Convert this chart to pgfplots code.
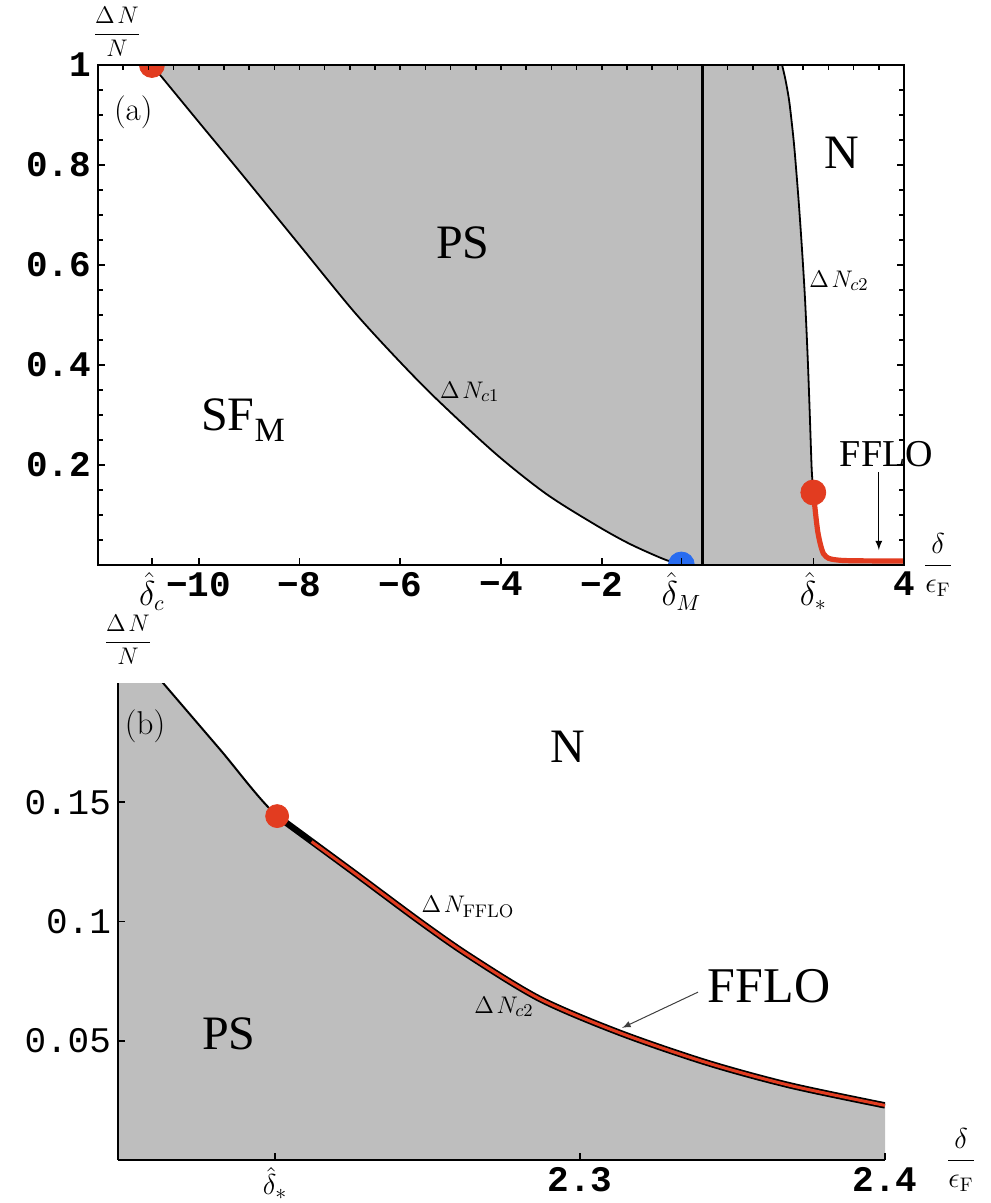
\documentclass[border=0pt]{standalone}
\usepackage{pgfplots}
\pgfplotsset{compat=1.18}
\usepackage{fontspec}
\newfontfamily\tms{Liberation Serif}
\newfontfamily\mono{Liberation Mono}
\definecolor{grayfill}{RGB}{190,190,190}
\definecolor{dotred}{RGB}{226,60,32}
\definecolor{dotblue}{RGB}{40,108,240}

\begin{document}
\begin{tikzpicture}
% ---------------- panel (a) ----------------
\begin{axis}[
  at={(49pt,-282.5pt)}, anchor=south west,
  scale only axis, width=403pt, height=250pt,
  xmin=-12, xmax=4, ymin=0, ymax=1,
  axis on top, clip marker paths=true,
  axis line style={line width=1.1pt},
  tick align=inside,
  major tick length=3.5pt, minor tick length=2.5pt,
  tick style={black, line width=0.8pt},
  xtick pos=left,
  xtick={-10.93,-10,-8,-6,-4,-2,-0.42,2.2,4},
  xticklabels={{\fontsize{16}{16}\selectfont$\hat\delta_c$},−10,−8,−6,−4,−2,{\fontsize{16}{16}\selectfont$\hat\delta_M$},{\fontsize{16}{16}\selectfont$\hat\delta_*$},4},
  ytick={0,0.2,0.4,0.6,0.8,1},
  yticklabels={,0.2,0.4,0.6,0.8,1},
  minor y tick num=3,
  tick label style={font=\fontsize{18}{18}\selectfont\mono\bfseries},
  after end axis/.code={
    \node[font=\fontsize{16.5}{16.5}\selectfont] at (axis cs:-11.30,0.906) {(a)};
    \node[font=\fontsize{24}{24}\selectfont\tms] at (axis cs:-4.76,0.644) {PS};
    \node[font=\fontsize{24}{24}\selectfont\tms] at (axis cs:2.77,0.824) {N};
    \node[font=\fontsize{24}{24}\selectfont\tms] at (axis cs:-9.12,0.29) {SF\raisebox{-0.22em}{\fontsize{17}{17}\selectfont M}};
    \node[font=\fontsize{13}{13}\selectfont] at (axis cs:-4.62,0.346) {$\Delta\mkern2mu N_{c1}$};
    \node[font=\fontsize{13}{13}\selectfont] at (axis cs:2.71,0.568) {$\Delta\mkern2mu N_{c2}$};
    \node[font=\fontsize{19}{19}\selectfont\tms] at (axis cs:3.65,0.222) {FFLO};
    \draw[-latex, line width=0.6pt] (axis cs:3.5,0.186) -- (axis cs:3.5,0.03);
    \node[font=\fontsize{12}{12}\selectfont, xshift=9.5pt, yshift=16.5pt] at (rel axis cs:0,1) {$\displaystyle\frac{\Delta\mkern2mu N}{N}$};
    \node[font=\fontsize{14}{14}\selectfont, anchor=west, xshift=6pt] at (rel axis cs:1,0) {$\displaystyle\frac{\delta}{\epsilon_{\mathrm{F}}}$};
  },
]
% phase-separated region
\addplot[fill=grayfill, draw=none] coordinates {
  (-10.93,1.0) (-10,0.886) (-9.18,0.786) (-8,0.640) (-6.93,0.508) (-6.06,0.412)
  (-5.27,0.331) (-4.1,0.222) (-3.1,0.142) (-2.12,0.080) (-1.46,0.043) (-0.8,0.013)
  (-0.42,0)
  (4,0) (4,0.008) (3.2,0.0083) (2.8,0.009) (2.6,0.011) (2.5,0.0135) (2.45,0.017)
  (2.4,0.0229) (2.3688,0.0313) (2.3416,0.0408) (2.3131,0.0533) (2.2869,0.0675)
  (2.2639,0.0854) (2.2475,0.1) (2.2256,0.1208) (2.2,0.145)
  (2.182,0.168) (2.164,0.2) (2.13,0.30) (2.09,0.41) (2.036,0.53) (1.976,0.63)
  (1.907,0.73) (1.827,0.83) (1.777,0.88) (1.718,0.93) (1.648,0.97) (1.58,1.0)
} -- cycle;
% Delta N_c1
\addplot[black, line width=0.9pt, smooth] coordinates {
  (-10.93,1.0) (-10,0.886) (-9.18,0.786) (-8,0.640) (-6.93,0.508) (-6.06,0.412)
  (-5.27,0.331) (-4.1,0.222) (-3.1,0.142) (-2.12,0.080) (-1.46,0.043) (-0.8,0.013)
  (-0.42,0)
};
% Delta N_c2
\addplot[black, line width=0.9pt, smooth] coordinates {
  (1.58,1.0) (1.648,0.97) (1.718,0.93) (1.777,0.88) (1.827,0.83) (1.907,0.73)
  (1.976,0.63) (2.036,0.53) (2.09,0.41) (2.13,0.30) (2.164,0.2) (2.182,0.168)
  (2.2,0.145)
};
% vertical line at delta = 0
\addplot[black, line width=1.1pt] coordinates {(0,0) (0,1)};
% FFLO line
\addplot[dotred, line width=2.6pt, smooth] coordinates {
  (2.2,0.145) (2.2256,0.1208) (2.2475,0.1) (2.2639,0.0854) (2.2869,0.0675)
  (2.3131,0.0533) (2.3416,0.0408) (2.3688,0.0313) (2.4,0.0229) (2.45,0.017)
  (2.5,0.0135) (2.6,0.011) (2.8,0.009) (3.2,0.0083) (4,0.008)
};
\addplot[only marks, mark=*, mark size=6.25pt, dotred] coordinates {(-10.93,1) (2.2,0.145)};
\addplot[only marks, mark=*, mark size=6.5pt, dotblue] coordinates {(-0.42,0)};
\end{axis}
% top minor ticks of panel (a)
\begin{axis}[
  at={(49pt,-282.5pt)}, anchor=south west,
  scale only axis, width=403pt, height=250pt,
  xmin=-12, xmax=4, ymin=0, ymax=1,
  axis x line*=top, axis y line=none,
  every non boxed x axis/.append style={x axis line style=-},
  axis line style={line width=1.1pt, -},
  tick align=inside, major tick length=2.5pt,
  tick style={black, line width=0.8pt},
  xtick={-11.5,-11,...,3.5}, xticklabels={},
]
\end{axis}
% ---------------- panel (b) ----------------
\begin{axis}[
  at={(59pt,-580pt)}, anchor=south west,
  scale only axis, width=383.5pt, height=238.5pt,
  xmin=2.14852, xmax=2.4, ymin=0, ymax=0.2,
  axis lines*=left,
  every non boxed x axis/.append style={x axis line style=-},
  every non boxed y axis/.append style={y axis line style=-},
  axis line style={line width=1pt, -},
  axis on top,
  tick align=inside, major tick length=3.3pt,
  tick style={black, line width=0.8pt},
  xtick={2.2,2.3,2.4}, xticklabels={{\fontsize{15}{15}\selectfont\raisebox{1.5pt}{$\hat\delta_*$}},2.3,2.4},
  ytick={0.05,0.1,0.15}, yticklabels={0.05,0.1,0.15},
  xticklabel style={font=\fontsize{18}{18}\selectfont\mono\bfseries},
  yticklabel style={font=\fontsize{18}{18}\selectfont\mono},
  after end axis/.code={
    \node[font=\fontsize{16.5}{16.5}\selectfont] at (axis cs:2.1574,0.1817) {(b)};
    \node[font=\fontsize{24}{24}\selectfont\tms] at (axis cs:2.2961,0.1733) {N};
    \node[font=\fontsize{13}{13}\selectfont] at (axis cs:2.2633,0.106) {$\Delta\mkern2mu N_{\mathrm{FFLO}}$};
    \node[font=\fontsize{13}{13}\selectfont] at (axis cs:2.2751,0.0642) {$\Delta\mkern2mu N_{c2}$};
    \node[font=\fontsize{25}{25}\selectfont\tms] at (axis cs:2.362,0.0729) {FFLO};
    \draw[-latex, line width=0.5pt, black!75] (axis cs:2.3387,0.0704) -- (axis cs:2.3138,0.0554);
    \node[font=\fontsize{24}{24}\selectfont\tms] at (axis cs:2.1849,0.0529) {PS};
    \node[font=\fontsize{12}{12}\selectfont, xshift=5pt, yshift=21.5pt] at (rel axis cs:0,1) {$\displaystyle\frac{\Delta\mkern2mu N}{N}$};
    \node[font=\fontsize{14}{14}\selectfont, anchor=west, xshift=27pt] at (rel axis cs:1,0) {$\displaystyle\frac{\delta}{\epsilon_{\mathrm{F}}}$};
  },
]
\addplot[fill=grayfill, draw=none, smooth] coordinates {
  (2.148,0.2228) (2.1633,0.2) (2.182,0.1721) (2.2007,0.1442)
  (2.2256,0.1208) (2.2475,0.1) (2.2639,0.0854) (2.2869,0.0675) (2.3131,0.0533)
  (2.3416,0.0408) (2.3688,0.0313) (2.4,0.0229)
} \closedcycle;
\addplot[black, line width=1pt, smooth] coordinates {
  (2.148,0.2228) (2.1633,0.2) (2.182,0.1721) (2.2007,0.1442) (2.2256,0.1208)
  (2.2475,0.1) (2.2639,0.0854) (2.2869,0.0675) (2.3131,0.0533) (2.3416,0.0408)
  (2.3688,0.0313) (2.4,0.0229)
};
\addplot[black, line width=3.2pt, smooth] coordinates {
  (2.2007,0.1442) (2.2256,0.1208) (2.2475,0.1) (2.2639,0.0854) (2.2869,0.0675)
  (2.3131,0.0533) (2.3416,0.0408) (2.3688,0.0313) (2.4,0.0229)
};
\addplot[dotred, line width=1.5pt, smooth] coordinates {
  (2.212,0.1335) (2.2256,0.1208) (2.2475,0.1) (2.2639,0.0854) (2.2869,0.0675)
  (2.3131,0.0533) (2.3416,0.0408) (2.3688,0.0313) (2.4,0.0229)
};
\addplot[only marks, mark=*, mark size=5.75pt, dotred] coordinates {(2.2007,0.1442)};
\end{axis}
\pgfresetboundingbox
\useasboundingbox (0pt,0pt) rectangle (495pt,-601.5pt);
\end{tikzpicture}
\end{document}
